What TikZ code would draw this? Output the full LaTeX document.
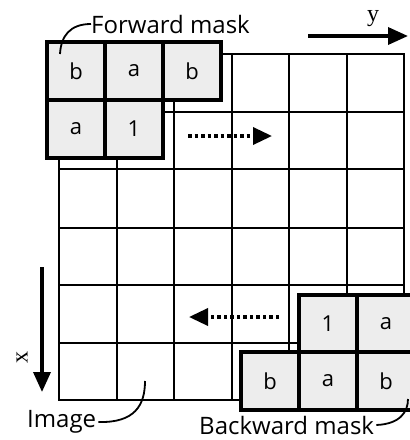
\documentclass[tikz,border=0pt]{standalone}
\usepackage{fontspec}
\setmainfont{Open Sans}
\newfontfamily\axisfont{Liberation Serif}
\usetikzlibrary{arrows.meta}
\begin{document}
\begin{tikzpicture}[x=1pt,y=-1pt,
  gridline/.style={line width=1.8pt},
  cell/.style={draw, line width=4pt, fill=black!7, minimum size=58pt, inner sep=0pt, font=\fontsize{22}{22}\selectfont},
  lbl/.style={font=\fontsize{24}{24}\selectfont, inner sep=0pt, anchor=west},
  axis/.style={line width=3.5pt, -{Triangle[length=20pt,width=17pt]}},
  dotarrow/.style={line width=3.5pt, dash pattern=on 3.5pt off 3pt, -{Triangle[length=19pt,width=17pt,sep=0pt]}},
  leader/.style={line width=1.8pt}]
\useasboundingbox (0,0) rectangle (410,440);
\begin{scope}
\clip (0,0) rectangle (410,440);
% image grid
\draw[gridline] (59,54) rectangle (404,400);
\foreach \v in {117,174,232,289,347} \draw[gridline] (\v,54) -- (\v,400);
\foreach \v in {112,169,228,285,343} \draw[gridline] (59,\v) -- (404,\v);
% forward mask
\node[cell] (f1) at (76,71) {b};
\node[cell] (f2) at (134,71) {a};
\node[cell] (f3) at (192,71) {b};
\node[cell] (f4) at (76,129) {a};
\node[cell] (f5) at (134,129) {1};
% backward mask
\node[cell] (b1) at (328,324) {1};
\node[cell] (b2) at (386,324) {a};
\node[cell] (b3) at (270,381) {b};
\node[cell] (b4) at (328,381) {a};
\node[cell] (b5) at (386,381) {b};
\end{scope}
% labels
\node[lbl] (fl) at (91,24) {Forward mask};
\node[lbl] (il) at (27,422) {Image};
\node[lbl] (bl) at (199,425) {Backward mask};
\coordinate (fe) at (60,54);
\coordinate (ie) at (145,381);
\coordinate (be) at (408,399);
\draw[leader] (fl.west) .. controls (70,24) and (61,36) .. (fe);
\draw[leader] ([xshift=2pt]il.east) .. controls (135,423) and (145,405) .. (ie);
\draw[leader] ([xshift=2pt]bl.east) .. controls (400,424) and (408,412) .. (be);
% axes
\coordinate (ys) at (308,36);
\coordinate (ye) at (408,36);
\coordinate (xs) at (42,267);
\coordinate (xe) at (42,392);
\draw[axis] (ys) -- (ye);
\draw[axis] (xs) -- (xe);
\node[font=\axisfont\fontsize{24}{24}\selectfont, inner sep=0pt, anchor=base] (yl) at (373,21) {y};
\node[font=\axisfont\fontsize{24}{24}\selectfont, inner sep=0pt, rotate=90] (xl) at (22,357) {x};
% scan direction arrows
\coordinate (r1) at (188,136);
\coordinate (r2) at (272,136);
\coordinate (l1) at (279,317);
\coordinate (l2) at (189,317);
\draw[dotarrow] (r1) -- (r2);
\draw[dotarrow] (l1) -- (l2);
\end{tikzpicture}
\end{document}
